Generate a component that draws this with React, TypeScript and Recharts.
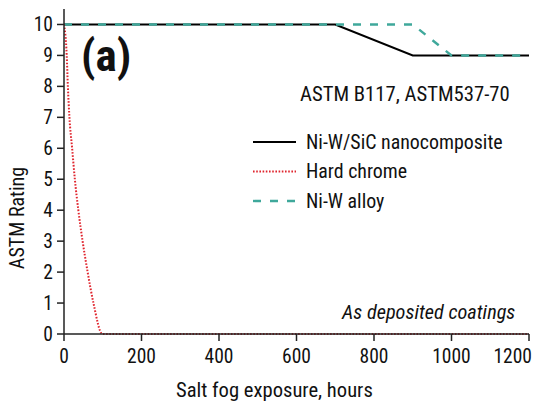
import React from "react";
import { LineChart, Line, XAxis, YAxis, Legend, Customized } from "recharts";

const FONT = "'Liberation Sans Narrow', 'Roboto Condensed', 'DejaVu Sans Condensed', 'Arial Narrow', sans-serif";

const xTicks = [0, 200, 400, 600, 800, 1000, 1200];
const yTicks = [0, 1, 2, 3, 4, 5, 6, 7, 8, 9, 10];

const niwSicHours = [0, 700, 900, 1200];
const niwSicRating = [10, 10, 9, 9];

const hardChromeHours = [0, 7, 10, 14, 21, 28, 37, 48, 61, 76, 99, 1200];
const hardChromeRating = [10, 9, 8, 7, 6, 5, 4, 3, 2, 1, 0, 0];

const niwAlloyHours = [0, 900, 1000, 1200];
const niwAlloyRating = [10, 10, 9, 9];

const seriesNames = ["Ni-W/SiC nanocomposite", "Hard chrome", "Ni-W alloy"];
const seriesColors = ["#000000", "#e0262f", "#3fa89b"];
const seriesDash = ["", "1.6 1.6", "8 9"];
const seriesWidth = [2, 2, 2.4];

const zip = (xs: number[], ys: number[]) => xs.map((h, i) => ({ h, r: ys[i] }));

const niwSic = zip(niwSicHours, niwSicRating);
const hardChrome = zip(hardChromeHours, hardChromeRating);
const niwAlloy = zip(niwAlloyHours, niwAlloyRating);

const lastTick = xTicks[xTicks.length - 1];

const XTick = (props: any) => {
  const { x, y, payload } = props;
  const isLast = payload.value === lastTick;
  return (
    <text
      x={isLast ? x + 3 : x}
      y={y}
      dy="0.71em"
      textAnchor={isLast ? "end" : "middle"}
      fontSize={19.5}
      fontFamily={FONT}
      fill="#111"
    >
      {payload.value}
    </text>
  );
};

const LegendBox = () => (
  <svg width={280} height={100} style={{ overflow: "visible" }}>
    {seriesNames.map((n, i) => {
      const cy = 12 + i * 29.5;
      return (
        <g key={n}>
          <line x1={0} x2={43} y1={cy} y2={cy} stroke={seriesColors[i]} strokeWidth={seriesWidth[i]} strokeDasharray={seriesDash[i] || undefined} />
          <text x={53} y={cy + 6.8} fontSize={19.9} fontFamily={FONT} fill="#111">{n}</text>
        </g>
      );
    })}
  </svg>
);

const Annotations = () => (
  <g fontFamily={FONT} fill="#111">
    <text x={81} y={71} fontSize={45} fontWeight="bold">(a)</text>
    <text x={300} y={101} fontSize={20.7}>ASTM B117, ASTM537-70</text>
    <text x={342} y={319} fontSize={20.3} fontStyle="italic">As deposited coatings</text>
    <text x={176} y={397} fontSize={20.6}>Salt fog exposure, hours</text>
    <text x={24} y={218} fontSize={20} textAnchor="middle" transform="rotate(-90 24 218)">ASTM Rating</text>
  </g>
);

export default function App() {
  return (
    <div style={{ position: "absolute", left: 0, top: 0, width: 533, height: 401, background: "#fff" }}>
      <style>{`body{margin:0}`}</style>
      <LineChart width={533} height={401} margin={{ top: 9, right: 4, left: 0, bottom: 0 }}>
        <XAxis
          type="number"
          dataKey="h"
          domain={[0, 1200]}
          ticks={xTicks}
          interval={0}
          allowDataOverflow
          height={67}
          tickSize={7}
          tickMargin={8}
          stroke="#222"
          strokeWidth={1.5}
          tick={<XTick />}
        />
        <YAxis
          type="number"
          dataKey="r"
          domain={[0, 10.5]}
          ticks={yTicks}
          interval={0}
          width={64}
          tickSize={7}
          tickMargin={4}
          stroke="#222"
          strokeWidth={1.5}
          tick={{ fontSize: 19.5, fontFamily: FONT, fill: "#111" }}
        />
        <Line data={niwSic} dataKey="r" name={seriesNames[0]} type="linear" stroke={seriesColors[0]} strokeWidth={seriesWidth[0]} dot={false} isAnimationActive={false} />
        <Line data={niwAlloy} dataKey="r" name={seriesNames[2]} type="linear" stroke={seriesColors[2]} strokeWidth={seriesWidth[2]} strokeDasharray={seriesDash[2]} dot={false} isAnimationActive={false} />
        <Line data={hardChrome} dataKey="r" name={seriesNames[1]} type="monotone" stroke={seriesColors[1]} strokeWidth={seriesWidth[1]} strokeDasharray={seriesDash[1]} dot={false} isAnimationActive={false} />
        <Legend
          layout="horizontal"
          verticalAlign="middle"
          align="center"
          wrapperStyle={{ position: "absolute", left: 253, top: 130, width: 280, height: 100 }}
          content={() => <LegendBox />}
        />
        <Customized component={<Annotations />} />
      </LineChart>
    </div>
  );
}
